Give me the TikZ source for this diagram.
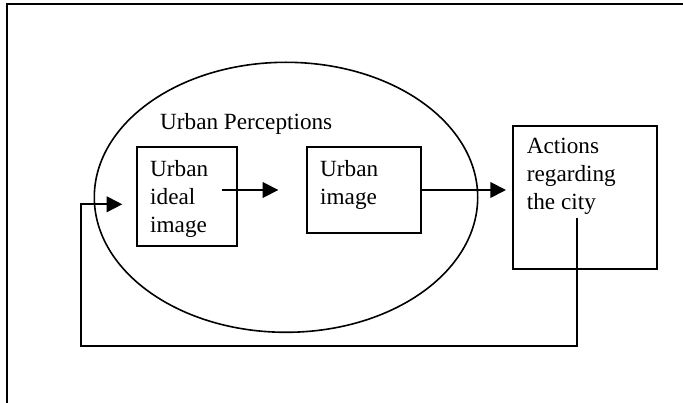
\documentclass[tikz,border=0pt]{standalone}
\usepackage{fontspec}
\setmainfont{Liberation Serif}
\usetikzlibrary{arrows.meta,shapes.geometric}
\begin{document}
\begin{tikzpicture}[x=1pt,y=-1pt,
  box/.style={draw,line width=2pt,rectangle,inner sep=0pt},
  txt/.style={align=left,inner sep=0pt,anchor=north west,font=\fontsize{23.2}{27.8}\selectfont},
  conn/.style={line width=1.8pt},
  arr/.style={conn,-{Triangle[length=15.7pt,width=15.7pt]}}]
\useasboundingbox (0,0) rectangle (683,403);
% frame (top and left only)
\draw[line width=2.2pt] (683,4.3) -- (7.3,4.3) -- (7.3,403);
% ellipse
\node[draw,ellipse,line width=1.6pt,minimum width=383.4pt,minimum height=270pt,inner sep=0pt] (perc) at (286,197.3) {};
\node[inner sep=0pt,anchor=base west,font=\fontsize{23.2}{27.8}\selectfont] (perclab) at (160,129.3) {Urban Perceptions};
% boxes
\node[box,minimum width=100pt,minimum height=98.7pt] (b1) at (186.6,196.65) {};
\node[box,minimum width=114pt,minimum height=85.4pt] (b2) at (364,190) {};
\node[box,minimum width=144.6pt,minimum height=143.6pt] (b3) at (585,197.5) {};
\node[txt] (t1) at (150,160.3) {Urban\\ideal\\image};
\node[txt] (t2) at (320,160.3) {Urban\\image};
\node[txt] (t3) at (526.7,138.3) {Actions\\regarding\\the city};
% connectors
\coordinate (a1s) at (221.7,190);
\coordinate (a1e) at (278.3,190);
\draw[arr] (a1s) -- (a1e);
\coordinate (a2e) at (506,190);
\draw[arr] (b2.east) -- (a2e);
\coordinate (fbs) at (577,218.3);
\coordinate (fbe) at (122.3,204.3);
\draw[arr] (fbs) -- (577,346) -- (80.7,346) -- (80.7,204.3) -- (fbe);
\end{tikzpicture}
\end{document}
